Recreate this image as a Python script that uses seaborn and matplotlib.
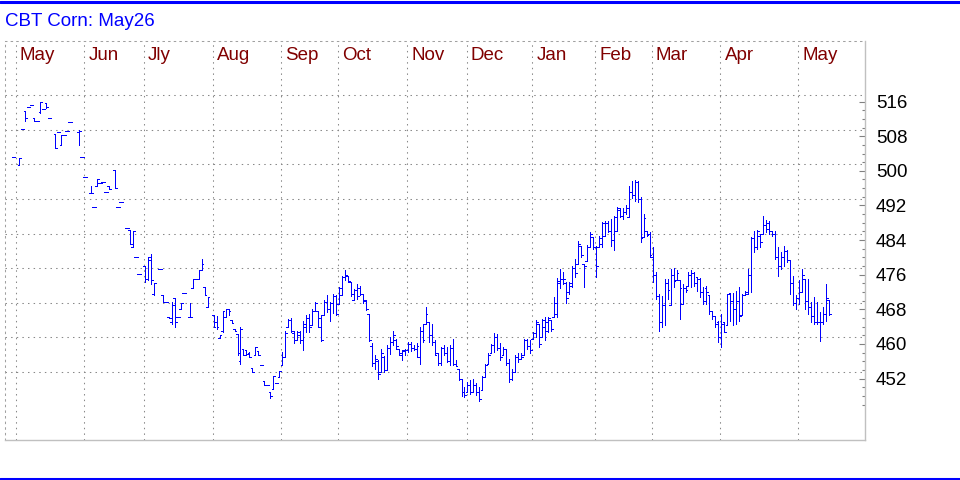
import numpy as np
import pandas as pd
import matplotlib
matplotlib.use("Agg")
import matplotlib.pyplot as plt
import seaborn as sns

nan = np.nan

# daily OHLC of the contract, one entry per bar (nan = no trade that day)
opens = [503.2, nan, 501.4, 509.6, 513.9, 514.8, 515.2, 512.2, 511.4, 513.5,
         514.2, 515.6, 512.2, nan, 508.5, 508.9, 506.0, 508.3, 509.1, 511.2,
         nan, nan, 508.9, 503.2, 498.6, nan, 494.9, 491.6, 496.4, 497.2,
         497.4, 495.2, 496.6, nan, 500.2, 491.7, 492.8, nan, 486.8, 486.4,
         482.4, 480.1, 476.2, nan, 477.9, 475.0, 480.0, 471.5, nan, 477.4,
         471.2, 469.7, 466.2, 465.0, 470.6, 466.2, 468.1, 471.8, nan, 466.2,
         472.9, 475.0, 475.0, 477.1, 473.1, 468.5, nan, 466.6, 465.0, 461.4,
         463.0, 466.2, 468.0, 465.6, 463.5, 462.4, 456.0, 458.9, 458.5, 458.0,
         454.4, 457.4, 458.3, 455.1, 451.4, 450.6, 448.9, 449.7, 451.0, 452.4,
         455.1, 457.0, 464.0, 465.5, 462.5, 461.0, 462.0, 461.0, 464.0, 466.0,
         464.3, 467.7, 467.7, 466.0, 466.6, 469.8, 468.0, 469.5, 471.0, 469.3,
         471.2, 475.5, 475.8, 474.3, 470.1, 472.5, 473.0, 471.5, 470.1, 467.0,
         459.5, 455.5, 456.0, 453.5, 457.0, 454.0, 459.0, 460.5, 461.0, 458.9,
         457.5, 458.5, 458.5, 460.0, 459.0, 458.9, 457.0, 463.0, 464.7, 465.0,
         462.0, 460.5, 457.8, 455.5, 459.0, 458.0, 456.0, 459.0, 455.3, 454.1,
         451.8, 449.0, 449.0, 450.5, 449.0, 450.5, 449.0, 449.3, 452.4, 455.4,
         457.8, 459.8, 461.5, 459.0, 457.4, 458.8, 455.5, 452.0, 453.5, 457.0,
         456.6, 457.4, 461.0, 459.5, 461.2, 462.5, 464.5, 461.6, 464.0, 463.0,
         465.6, 466.2, 467.0, 474.0, 475.0, 474.0, 472.0, 473.5, 477.5, 478.4,
         482.7, 478.4, 479.2, 482.4, 484.7, 482.5, 482.4, 483.0, 485.0, 488.0,
         486.0, 484.0, 486.1, 491.0, 489.5, 490.5, 489.4, 495.0, 494.5, 497.5,
         493.5, 484.6, 486.2, 485.5, 480.0, 476.0, 471.0, 465.0, 469.0, 474.0,
         469.0, 476.0, 474.7, 474.7, 469.3, 473.0, 473.5, 476.0, 476.5, 475.4,
         475.0, 472.0, 473.0, 471.4, 467.5, 466.4, 465.0, 461.5, 465.0, 464.3,
         471.8, 470.0, 468.0, 470.0, 466.6, 471.2, 471.6, 476.0, 484.5, 482.5,
         485.0, 485.4, 487.5, 488.0, 486.0, 485.5, 480.0, 478.0, 480.0, 481.5,
         479.3, 474.0, 469.5, 470.5, 472.0, 475.0, 470.0, 468.5, 466.5, 465.0,
         465.0, 465.0, 467.0, 470.1]
highs = [503.2, nan, 503.0, 509.6, 513.9, 514.8, 515.2, 512.2, 511.4, 516.0,
         514.2, 515.6, 512.2, nan, 508.5, 508.9, 508.3, 508.3, 509.1, 511.2,
         nan, nan, 509.4, 503.2, 498.6, nan, 496.4, 491.6, 498.1, 497.2,
         497.4, 495.2, 496.6, nan, 500.2, 491.7, 492.8, nan, 486.8, 486.4,
         486.0, 480.1, 476.2, nan, 477.9, 480.0, 480.7, 474.0, nan, 477.4,
         471.2, 469.7, 466.2, 469.7, 470.6, 466.2, 469.5, 471.8, nan, 469.5,
         475.0, 475.0, 477.1, 479.7, 473.1, 470.8, nan, 466.6, 466.4, 462.1,
         467.7, 468.0, 468.1, 465.6, 463.5, 462.4, 463.8, 458.9, 458.5, 458.1,
         454.4, 459.4, 458.3, 455.1, 451.4, 450.6, 448.9, 452.5, 451.0, 453.7,
         458.1, 462.9, 465.8, 466.0, 462.9, 463.1, 463.0, 465.4, 466.8, 467.0,
         468.1, 469.7, 467.7, 466.6, 470.1, 471.2, 469.7, 471.6, 471.2, 473.1,
         475.6, 477.0, 475.8, 474.3, 472.7, 473.9, 473.3, 471.6, 470.1, 467.0,
         460.1, 457.4, 456.4, 458.9, 457.1, 459.7, 461.5, 463.0, 461.2, 458.9,
         458.5, 458.9, 460.5, 460.5, 459.7, 460.2, 463.8, 464.7, 468.6, 465.1,
         464.7, 460.8, 457.8, 459.3, 459.7, 459.3, 459.7, 461.2, 456.2, 454.1,
         451.8, 450.1, 451.2, 451.6, 451.8, 450.9, 450.1, 452.5, 455.4, 457.8,
         459.9, 462.5, 462.4, 460.1, 459.3, 458.9, 456.6, 454.3, 457.4, 457.8,
         457.8, 461.2, 461.2, 460.8, 462.7, 465.6, 464.7, 465.8, 466.2, 466.2,
         465.6, 470.8, 475.3, 477.4, 476.6, 474.3, 474.3, 478.1, 479.7, 483.9,
         482.7, 478.4, 482.9, 485.8, 484.7, 482.7, 485.0, 488.1, 488.5, 488.5,
         488.9, 489.6, 491.7, 491.5, 491.5, 492.0, 496.6, 497.7, 497.9, 497.7,
         493.9, 490.0, 486.2, 485.8, 482.4, 476.6, 471.6, 471.0, 475.0, 475.0,
         477.4, 477.5, 477.0, 474.7, 473.9, 473.5, 476.6, 477.0, 476.6, 475.4,
         475.2, 473.1, 473.3, 471.4, 467.5, 466.4, 465.4, 467.0, 465.0, 471.6,
         471.8, 471.8, 472.3, 473.1, 471.6, 472.3, 477.4, 484.7, 486.2, 486.4,
         485.4, 489.5, 488.7, 488.5, 486.0, 486.0, 482.4, 481.2, 482.6, 481.6,
         479.3, 475.8, 471.2, 474.7, 477.4, 475.0, 474.9, 469.7, 470.8, 469.7,
         467.4, 468.6, 473.9, 470.1]
lows = [503.2, nan, 501.4, 509.6, 511.4, 514.8, 515.2, 511.4, 511.4, 513.3,
        514.2, 514.6, 512.2, nan, 505.3, 508.9, 506.0, 508.3, 509.1, 511.2,
        nan, nan, 506.0, 503.2, 498.6, nan, 494.9, 491.6, 496.4, 497.2,
        497.4, 495.2, 495.8, nan, 496.0, 491.7, 492.8, nan, 486.8, 483.1,
        482.4, 480.1, 476.2, nan, 474.3, 474.8, 473.9, 471.2, nan, 477.4,
        469.7, 469.7, 465.9, 464.7, 464.0, 466.2, 468.1, 471.8, nan, 466.2,
        472.9, 475.0, 475.0, 477.1, 471.4, 468.5, nan, 463.8, 463.5, 461.4,
        462.7, 466.2, 466.6, 464.8, 463.0, 457.4, 455.3, 457.5, 457.4, 457.0,
        453.5, 457.4, 457.4, 455.1, 450.6, 450.6, 447.6, 449.7, 451.0, 452.4,
        455.1, 457.0, 464.0, 462.7, 460.3, 460.8, 460.1, 458.7, 462.7, 462.7,
        464.3, 467.7, 463.9, 460.6, 466.6, 467.4, 465.4, 467.1, 466.6, 469.3,
        471.2, 474.7, 474.3, 471.0, 470.1, 470.4, 471.2, 469.5, 467.9, 460.6,
        454.8, 454.3, 451.8, 453.5, 453.5, 453.9, 457.6, 459.7, 458.9, 457.4,
        456.4, 457.4, 458.1, 458.4, 458.5, 457.0, 455.3, 460.5, 464.7, 460.5,
        459.7, 457.4, 455.1, 455.1, 457.4, 455.8, 455.1, 455.1, 454.8, 451.6,
        447.9, 447.8, 448.9, 448.5, 448.9, 448.2, 446.8, 449.3, 452.4, 455.4,
        457.8, 458.1, 458.5, 456.2, 457.4, 455.1, 451.2, 451.6, 453.5, 455.8,
        456.6, 457.4, 458.9, 457.8, 461.2, 461.6, 459.3, 461.6, 460.8, 462.7,
        463.1, 466.2, 466.2, 473.0, 473.9, 469.5, 471.6, 473.2, 475.4, 478.4,
        480.0, 473.2, 479.2, 482.4, 482.0, 475.4, 482.4, 482.4, 485.0, 485.8,
        482.7, 481.8, 486.1, 489.3, 488.9, 490.0, 489.4, 493.8, 493.1, 492.7,
        483.5, 484.6, 485.0, 480.0, 474.3, 470.4, 463.1, 463.9, 464.3, 470.4,
        468.9, 473.1, 474.7, 465.8, 469.3, 472.1, 473.5, 473.1, 473.5, 472.3,
        470.8, 469.3, 469.3, 467.0, 465.8, 463.9, 460.4, 459.3, 462.7, 464.3,
        465.4, 464.3, 464.7, 465.4, 466.6, 471.2, 471.6, 472.0, 481.2, 482.0,
        482.4, 485.4, 485.8, 485.4, 485.0, 479.7, 475.8, 477.4, 478.1, 478.9,
        471.6, 468.9, 468.1, 469.3, 472.0, 468.1, 467.0, 465.0, 464.7, 464.7,
        460.6, 464.7, 465.4, 466.6]
closes = [503.2, nan, 503.0, 509.6, 512.2, 514.8, 515.2, 511.4, 511.4, 516.0,
          514.2, 514.8, 512.2, nan, 505.3, 508.9, 508.3, 508.3, 509.1, 511.2,
          nan, nan, 509.1, 503.2, 498.6, nan, 494.9, 491.6, 498.1, 497.2,
          497.4, 495.2, 495.8, nan, 496.0, 491.7, 492.8, nan, 486.8, 483.1,
          486.0, 480.1, 476.2, nan, 475.0, 479.5, 474.8, 474.0, nan, 477.4,
          469.7, 469.7, 465.9, 469.0, 465.0, 466.2, 469.5, 471.8, nan, 466.2,
          475.0, 475.0, 477.1, 478.4, 471.4, 470.8, nan, 464.0, 464.0, 462.1,
          467.5, 468.0, 467.5, 464.8, 463.0, 458.0, 463.5, 457.5, 457.6, 457.0,
          453.5, 459.2, 457.4, 455.1, 450.6, 450.6, 448.0, 452.5, 451.0, 453.7,
          457.0, 462.5, 465.5, 463.0, 461.0, 462.8, 461.0, 464.5, 466.0, 464.0,
          467.5, 469.5, 464.0, 461.0, 469.8, 468.0, 469.5, 471.0, 467.0, 473.0,
          475.5, 476.0, 474.5, 471.5, 472.5, 471.0, 471.5, 470.0, 468.0, 461.0,
          455.5, 456.5, 453.0, 458.0, 454.0, 459.0, 460.5, 462.0, 459.5, 457.8,
          458.3, 458.7, 460.0, 459.0, 458.9, 459.5, 463.0, 461.0, 467.0, 462.0,
          460.5, 457.5, 455.5, 459.0, 458.0, 456.0, 459.0, 455.3, 455.0, 452.0,
          449.0, 448.3, 450.5, 449.0, 450.5, 449.0, 447.2, 452.3, 455.2, 457.5,
          459.8, 461.5, 459.0, 457.0, 458.8, 455.5, 452.0, 453.5, 457.0, 456.5,
          457.0, 461.0, 459.5, 458.5, 462.5, 465.0, 460.0, 465.5, 465.0, 466.0,
          463.5, 469.5, 474.5, 475.0, 475.0, 470.5, 474.0, 477.5, 476.5, 483.0,
          480.5, 478.0, 482.5, 485.5, 482.5, 478.0, 484.5, 488.0, 488.0, 486.0,
          484.0, 489.3, 491.5, 489.5, 490.5, 491.5, 495.0, 494.5, 497.5, 493.5,
          484.5, 489.0, 485.2, 480.5, 476.0, 471.0, 465.0, 469.0, 474.0, 472.5,
          476.0, 474.5, 476.5, 473.0, 473.0, 472.5, 476.0, 476.5, 474.0, 475.0,
          472.0, 470.0, 472.0, 467.5, 466.5, 464.5, 461.5, 464.5, 462.8, 471.5,
          470.0, 468.0, 470.0, 466.5, 471.2, 472.0, 476.0, 484.5, 482.5, 486.0,
          483.5, 487.5, 486.5, 486.0, 485.5, 480.0, 478.0, 480.0, 481.5, 479.5,
          474.0, 469.5, 470.5, 472.0, 476.0, 470.0, 468.5, 466.5, 465.0, 465.0,
          465.0, 467.0, 470.5, 467.0]

# month labels and the first bar of each month
month_labels = ["May", "Jun", "Jly", "Aug", "Sep", "Oct", "Nov", "Dec",
                "Jan", "Feb", "Mar", "Apr", "May"]
month_start = [1, 24, 44, 67, 90, 109, 132, 152, 174, 195, 214, 237, 263]

price_ticks = [516, 508, 500, 492, 484, 476, 468, 460, 452]

df = pd.DataFrame({"open": opens, "high": highs, "low": lows, "close": closes})
df["bar"] = np.arange(len(df))
df = df.dropna()

sns.set_style("white")
plt.rcParams["font.family"] = ["Liberation Sans", "DejaVu Sans"]

fig = plt.figure(figsize=(9.6, 4.8), dpi=100)
ax = fig.add_axes([5 / 960, 40 / 480, 860 / 960, 399 / 480])

blue = "#0000ff"
bar_lw = 0.72
ax.vlines(df["bar"], df["low"], df["high"], color=blue, lw=bar_lw, antialiased=False)
ax.hlines(df["open"], df["bar"] - 0.6, df["bar"], color=blue, lw=bar_lw, antialiased=False)
ax.hlines(df["close"], df["bar"], df["bar"] + 0.6, color=blue, lw=bar_lw, antialiased=False)

ax.set_xlim(-2.85, 285.1)
ax.set_ylim(437.8, 530.0)

# dotted grid
dots = (0, (1.4, 4))
for p in price_ticks:
    ax.axhline(p + 1.5, color="#888888", lw=0.75, ls=dots, zorder=0)
for m, lab in zip(month_start, month_labels):
    ax.axvline(m - 0.3, color="#888888", lw=0.75, ls=dots, zorder=0)
    ax.annotate(lab, xy=(m - 0.3, 0.963), xycoords=("data", "axes fraction"),
                xytext=(3, 0), textcoords="offset points",
                ha="left", va="center", fontsize=13.5, color="#800000")

ax.set_xticks([])
ax.yaxis.tick_right()
ax.set_yticks(price_ticks)
ax.set_yticks(np.arange(446, 518, 2), minor=True)
ax.tick_params(axis="y", which="major", direction="in", length=4, width=0.8,
               color="#808080", labelsize=13.5, pad=8, labelcolor="black")
ax.tick_params(axis="y", which="minor", direction="in", length=2.5, width=0.8,
               color="#808080")

for side in ["left", "top"]:
    ax.spines[side].set_linestyle(dots)
    ax.spines[side].set_color("#a0a0a0")
    ax.spines[side].set_linewidth(0.75)
for side in ["right", "bottom"]:
    ax.spines[side].set_color("#c0c0c0")
    ax.spines[side].set_linewidth(1.0)

fig.text(5 / 960, 1 - 21 / 480, "CBT Corn: May26", color=blue, fontsize=13.5,
         ha="left", va="center")

# blue rules at the top and bottom of the picture
fig.add_artist(plt.Line2D([0, 1], [1 - 1.5 / 480, 1 - 1.5 / 480], color=blue, lw=2.2))
fig.add_artist(plt.Line2D([0, 1], [1.5 / 480, 1.5 / 480], color=blue, lw=2.2))

fig.savefig("out.png", dpi=100)
